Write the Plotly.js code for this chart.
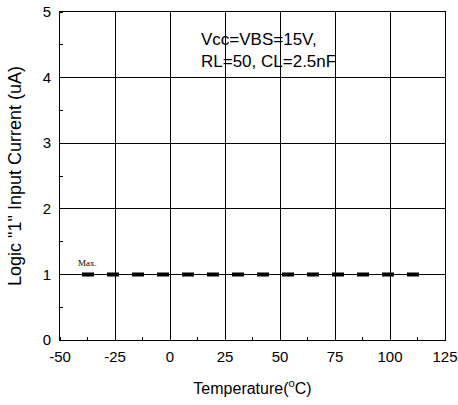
<!DOCTYPE html>
<html>
<head>
<meta charset="utf-8">
<script src="https://cdn.plot.ly/plotly-3.0.1.min.js"></script>
<style>html,body{margin:0;padding:0;background:#fff;}#chart{width:458px;height:405px;}</style>
</head>
<body>
<div id="chart"></div>
<script>
// Data
const temperature = [-40, -25, 0, 25, 50, 75, 100, 115];
const inputCurrentMax = [1, 1, 1, 1, 1, 1, 1, 1];
const xTickVals = [-50, -25, 0, 25, 50, 75, 100, 125];
const xTickText = ["-50", "-25", "0", "25", "50", "75", "100", "125"];
const yTickVals = [0, 1, 2, 3, 4, 5];
const yTickText = ["0", "1", "2", "3", "4", "5"];
const seriesLabel = "Max.";
const conditionText = "Vcc=VBS=15V,<br>RL=50, CL=2.5nF";

const font = "Arial, 'Liberation Sans', sans-serif";

const trace = {
  x: temperature,
  y: inputCurrentMax,
  mode: "lines",
  line: { color: "#000", width: 4, dash: "12px,13px" },
  hoverinfo: "skip",
  showlegend: false
};

const axisCommon = {
  showline: true, linecolor: "#000", linewidth: 1, mirror: true,
  showgrid: true, gridcolor: "#000", gridwidth: 1,
  zeroline: false,
  ticks: "", tickfont: { family: font, size: 15, color: "#000" },
  fixedrange: true
};

const layout = {
  width: 458, height: 405,
  margin: { l: 60, r: 13, t: 12, b: 65 },
  paper_bgcolor: "#fff", plot_bgcolor: "#fff",
  xaxis: Object.assign({}, axisCommon, {
    range: [-50, 125], tickmode: "array", tickvals: xTickVals, ticktext: xTickText,
    ticklabelstandoff: 3,
    minor: { dtick: 12.5, tick0: 0, ticks: "inside", ticklen: 3, tickcolor: "#000", showgrid: false },
    title: { text: "Temperature(<sup>o</sup>C)", font: { family: font, size: 16, color: "#000" }, standoff: 18 }
  }),
  yaxis: Object.assign({}, axisCommon, {
    range: [0, 5], tickmode: "array", tickvals: yTickVals, ticktext: yTickText,
    ticklabelstandoff: 5,
    minor: { dtick: 0.5, tick0: 0, ticks: "inside", ticklen: 3, tickcolor: "#000", showgrid: false },
    title: { text: 'Logic "1" Input Current (uA)', font: { family: font, size: 18, color: "#000" }, standoff: 16 }
  }),
  annotations: [
    {
      x: 13.2, y: 4.42, xref: "x", yref: "y",
      text: conditionText, showarrow: false,
      xanchor: "left", yanchor: "middle", align: "left",
      font: { family: font, size: 17, color: "#000" }
    },
    {
      x: temperature[0] + 2.5, y: inputCurrentMax[0] + 0.17, xref: "x", yref: "y",
      text: seriesLabel, showarrow: false,
      xanchor: "center", yanchor: "middle",
      font: { family: "'Liberation Serif', 'Times New Roman', serif", size: 9, color: "#000" }
    }
  ]
};

Plotly.newPlot("chart", [trace], layout, { staticPlot: true, displayModeBar: false });
</script>
</body>
</html>
